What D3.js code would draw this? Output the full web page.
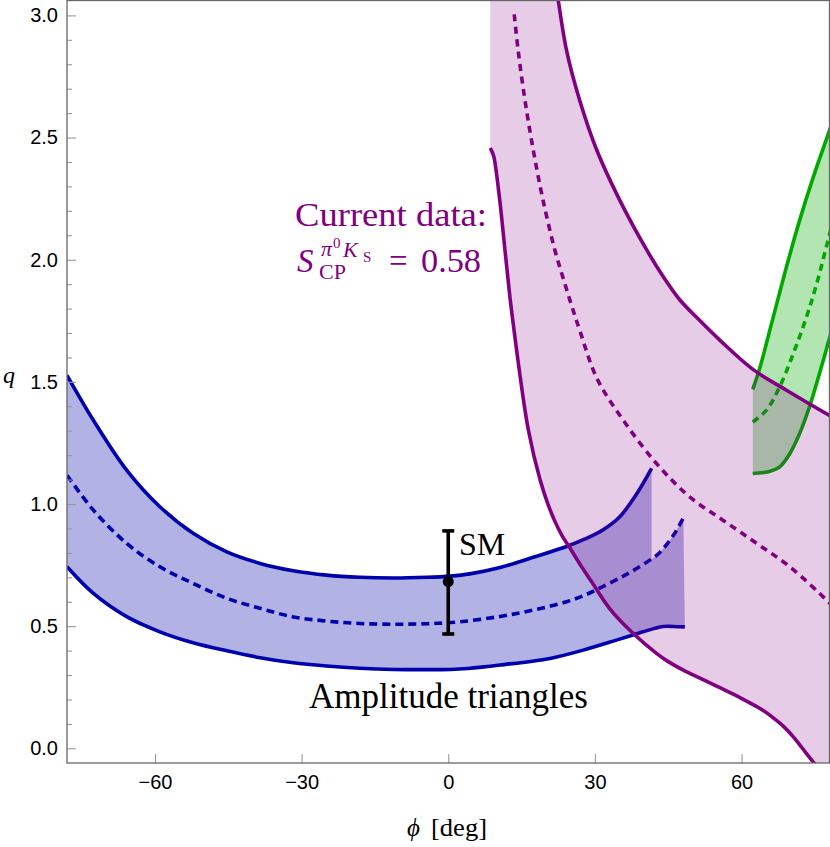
<!DOCTYPE html>
<html><head><meta charset="utf-8">
<script src="https://cdn.jsdelivr.net/npm/d3@7"></script>
<style>body{margin:0;background:#fff}svg{display:block}</style>
</head><body>
<svg id="chart" width="830" height="847"></svg>
<script>
// ---------- data ----------
const xTicks = [-60, -30, 0, 30, 60];
const yTicks = [0, 0.5, 1, 1.5, 2, 2.5, 3];
const yMinorTicks = [0.1,0.2,0.3,0.4,0.6,0.7,0.8,0.9,1.1,1.2,1.3,1.4,1.6,1.7,1.8,1.9,2.1,2.2,2.3,2.4,2.6,2.7,2.8,2.9];

// Amplitude triangles (blue band): [phi, q]
const blueUpper = [[-78,1.527],[-72.6,1.343],[-65.8,1.139],[-59,0.989],[-52.2,0.880],[-45.3,0.804],[-38.5,0.757],[-31.7,0.727],[-24.9,0.709],[-18.1,0.700],[-11.2,0.697],[-4.4,0.700],[0.4,0.705],[4.4,0.714],[10.6,0.740],[17.4,0.782],[24.2,0.826],[28.0,0.857],[31.7,0.895],[35.1,0.948],[38.5,1.040],[41.6,1.146]];
const blueCentral = [[-78,1.118],[-72.6,0.975],[-65.8,0.839],[-59,0.743],[-52.2,0.675],[-45.3,0.614],[-38.5,0.573],[-31.7,0.538],[-24.9,0.521],[-18.1,0.511],[-11.2,0.508],[-4.4,0.510],[2.4,0.518],[10.6,0.540],[17.4,0.566],[24.2,0.600],[28.3,0.630],[31.0,0.656],[35.1,0.697],[37.8,0.727],[41.6,0.775],[43.3,0.802],[46.0,0.870],[48.1,0.943]];
const blueLower = [[-78,0.743],[-72.6,0.634],[-65.8,0.539],[-59,0.477],[-52.2,0.432],[-45.3,0.399],[-38.5,0.371],[-31.7,0.350],[-24.9,0.337],[-18.1,0.328],[-11.2,0.323],[-4.4,0.322],[0.4,0.323],[4.0,0.327],[10.6,0.341],[20.8,0.368],[27.6,0.402],[34.4,0.443],[37.8,0.464],[40.0,0.478],[42.0,0.490],[44.0,0.499],[46.0,0.499],[48.4,0.497]];

// Current data S_CP (purple band)
const purpleLeft = [[8.6,2.457],[9.0,2.440],[9.35,2.420],[10.5,2.250],[11.6,2.040],[12.6,1.850],[13.6,1.690],[14.8,1.510],[16.4,1.302],[18.8,1.098],[20.3,1.005],[21.8,0.930],[23.3,0.870],[24.9,0.820],[27.0,0.752],[29.0,0.692],[33.1,0.570],[37.8,0.471],[42.6,0.389],[45.0,0.355],[48.1,0.320],[51.5,0.287],[54.9,0.255],[58.3,0.222],[61.7,0.186],[64.2,0.158],[66.5,0.125],[68.7,0.088],[70.6,0.047],[72.0,0.012],[73.3,-0.022],[75.4,-0.075],[76.2,-0.100]];
const purpleCentral = [[13.5,3.004],[14.3,2.857],[15.7,2.652],[17.4,2.448],[19.4,2.243],[21.8,2.040],[23.5,1.925],[25.2,1.815],[27.0,1.705],[30.4,1.515],[35.8,1.343],[42.6,1.166],[49.4,1.029],[56.2,0.934],[63.1,0.839],[69.9,0.743],[77.4,0.607],[78.5,0.585]];
const purpleRight = [[21.9,3.140],[22.5,3.062],[24.2,2.857],[26.9,2.652],[30.4,2.448],[35.1,2.243],[40.6,2.040],[44.0,1.930],[47.4,1.835],[51.0,1.760],[55.6,1.670],[62.4,1.550],[69.2,1.466],[77.9,1.364],[79.0,1.352]];

// Green band
const greenUpper = [[62.3,1.469],[63.8,1.561],[66.5,1.766],[69.2,1.971],[71.9,2.162],[74.7,2.339],[77.9,2.523],[78.6,2.565]];
const greenCentral = [[62.3,1.336],[65.1,1.384],[67.8,1.480],[70.6,1.616],[73.3,1.766],[75.4,1.903],[77.7,2.080],[78.6,2.150]];
const greenLower = [[62.3,1.125],[63.5,1.127],[65.5,1.132],[67.8,1.152],[69.9,1.207],[71.9,1.289],[73.9,1.398],[77.9,1.671],[78.6,1.720]];

// SM point with error bar
const smPoint = [{phi:0, q:0.682, lo:0.468, hi:0.890}];

// ---------- drawing ----------
const svg = d3.select("#chart");
const L = 67, R = 829.5, T = 0.5, B = 763;
const x = d3.scaleLinear().domain([-78, 78]).range([L, R]);
const y = d3.scaleLinear().domain([-0.06, 3.063]).range([B, 0]);

svg.append("defs").append("clipPath").attr("id","plotclip")
  .append("rect").attr("x",L).attr("y",T).attr("width",R-L).attr("height",B-T);

const curve = d3.curveCatmullRom.alpha(0.5);
const line = d3.line().x(d=>x(d[0])).y(d=>y(d[1])).curve(curve);
const cont = pts => line(pts).replace(/^M/, "L");

const plot = svg.append("g").attr("clip-path","url(#plotclip)");

const purple = "rgb(128,0,128)", blue = "rgb(0,0,172)", green = "rgb(0,168,0)";
const SW = 3.6;

// green band
plot.append("path")
  .attr("d", line(greenUpper) + cont(greenLower.slice().reverse()) + "Z")
  .attr("fill", green).attr("fill-opacity", 0.3).attr("stroke","none");
[[greenUpper,null],[greenLower,null],[greenCentral,"7,5"]].forEach(([d,dash])=>{
  plot.append("path").attr("d", line(d)).attr("fill","none")
    .attr("stroke", green).attr("stroke-width", SW)
    .attr("stroke-dasharray", dash);
});

// blue band: top follows upper curve until it ends, then the central curve
const cut = blueUpper[blueUpper.length-1][0];
const blueTail = blueCentral.filter(d => d[0] >= cut);
plot.append("path")
  .attr("d", line(blueUpper) + cont(blueTail) + cont(blueLower.slice().reverse()) + "Z")
  .attr("fill", "rgb(0,0,170)").attr("fill-opacity", 0.3).attr("stroke","none");
[[blueUpper,null],[blueLower,null],[blueCentral,"8,5"]].forEach(([d,dash])=>{
  plot.append("path").attr("d", line(d)).attr("fill","none")
    .attr("stroke", blue).attr("stroke-width", SW)
    .attr("stroke-dasharray", dash);
});

// purple band
const pl0 = purpleLeft[0], plN = purpleLeft[purpleLeft.length-1];
const prN = purpleRight[purpleRight.length-1], pr0 = purpleRight[0];
const yTop = 3.3, yBot = -0.3;
const purplePath = "M" + x(pl0[0]) + "," + y(yTop) +
  cont(purpleLeft) +
  "L" + x(plN[0]) + "," + y(yBot) +
  "L" + x(prN[0]) + "," + y(yBot) +
  "L" + x(prN[0]) + "," + y(prN[1]) +
  cont(purpleRight.slice().reverse()) +
  "L" + x(pr0[0]) + "," + y(yTop) + "Z";
plot.append("path").attr("d", purplePath)
  .attr("fill", purple).attr("fill-opacity", 0.2).attr("stroke","none");
[[purpleLeft,null],[purpleRight,null],[purpleCentral,"7,5.5"]].forEach(([d,dash])=>{
  plot.append("path").attr("d", line(d)).attr("fill","none")
    .attr("stroke", purple).attr("stroke-width", SW)
    .attr("stroke-dasharray", dash);
});

// SM error bar
const sm = svg.append("g");
smPoint.forEach(p=>{
  sm.append("line").attr("x1",x(p.phi)).attr("x2",x(p.phi)).attr("y1",y(p.lo)).attr("y2",y(p.hi))
    .attr("stroke","#000").attr("stroke-width",3.6);
  [p.lo,p.hi].forEach(v=>sm.append("line").attr("x1",x(p.phi)-6).attr("x2",x(p.phi)+6)
    .attr("y1",y(v)).attr("y2",y(v)).attr("stroke","#000").attr("stroke-width",3.6));
  sm.append("circle").attr("cx",x(p.phi)).attr("cy",y(p.q)).attr("r",5.5).attr("fill","#000");
});

// axes
const tickColor = "#999";
svg.append("g").attr("transform",`translate(${L},0)`)
  .call(d3.axisLeft(y).tickValues(yTicks).tickFormat(d3.format(".1f")).tickSize(-9).tickPadding(9));
svg.append("g").attr("transform",`translate(${L},0)`)
  .call(d3.axisLeft(y).tickValues(yMinorTicks).tickFormat("").tickSize(-5));
svg.append("g").attr("transform",`translate(0,${B})`)
  .call(d3.axisBottom(x).tickValues(xTicks).tickFormat(d3.format("d")).tickSize(-9).tickPadding(12));
svg.selectAll(".domain").remove();
svg.selectAll(".tick line").attr("stroke", tickColor).attr("stroke-width", 1.1);
svg.selectAll(".tick text")
  .style("font-family","'Liberation Sans', Arial, Helvetica, sans-serif")
  .style("font-size", "20px").attr("fill","#000");

svg.append("rect").attr("x",L).attr("y",T).attr("width",R-L).attr("height",B-T)
  .attr("fill","none").attr("stroke","#666").attr("stroke-width",1.3);

// texts
const serif = "'Liberation Serif', 'Times New Roman', serif";
const txt = (s, px, py, size, opts={}) => svg.append("text").attr("x",px).attr("y",py)
  .style("font-family", opts.family || serif).style("font-size", size + "px")
  .style("font-style", opts.italic ? "italic" : "normal")
  .attr("fill", opts.color || "#000").text(s);

txt("Current data:", 295, 226, 33, {color:purple}).attr("textLength",192).attr("lengthAdjust","spacingAndGlyphs");
txt("S", 297, 272, 33, {color:purple, italic:true});
txt("CP", 319, 279, 22, {color:purple});
txt("π", 321, 256, 22, {color:purple, italic:true});
txt("0", 333, 248, 15, {color:purple});
txt("K", 343, 257, 22, {color:purple, italic:true});
txt("S", 363, 262, 15, {color:purple});
txt("=", 389, 272, 33, {color:purple});
txt("0.58", 421, 272, 33, {color:purple}).attr("textLength",60).attr("lengthAdjust","spacingAndGlyphs");

txt("SM", 459, 555, 32);
txt("Amplitude triangles", 309, 708, 35).attr("textLength",279).attr("lengthAdjust","spacingAndGlyphs");

txt("q", 3, 383, 24, {italic:true});
txt("ϕ", 407, 836, 25, {italic:true});
txt("[deg]", 431, 836, 25).attr("textLength",56).attr("lengthAdjust","spacingAndGlyphs");
</script>
</body></html>
